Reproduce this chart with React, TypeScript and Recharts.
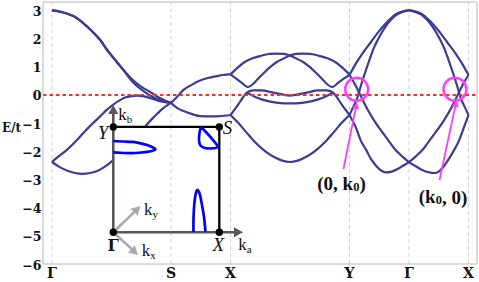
import React from 'react';
import { ComposedChart, Line, Scatter, XAxis, YAxis, ReferenceLine } from 'recharts';

type P = [number, number];

// ---- axes ----
const K_TICKS = [0, 2, 3, 5, 6, 7];
const K_TICK_LABELS = ['Γ', 'S', 'X', 'Y', 'Γ', 'X'];
const E_TICKS = [-6, -5, -4, -3, -2, -1, 0, 1, 2, 3];
const K_DOMAIN: P = [-0.151, 7.143];
const E_DOMAIN: P = [-6, 3.3];

// ---- bands: Γ → S ----
const gsUpper1: P[] = [[0, 3.0], [0.13, 2.96], [0.25, 2.89], [0.39, 2.77], [0.52, 2.56], [0.67, 2.27], [0.81, 1.95], [0.94, 1.56], [1.09, 1.17], [1.23, 0.82], [1.36, 0.53], [1.51, 0.28], [1.65, 0.11], [1.78, -0.07], [1.88, -0.18], [2.0, -0.28]];
const gsUpper2: P[] = [[0, 3.0], [0.13, 2.96], [0.25, 2.89], [0.39, 2.77], [0.52, 2.56], [0.67, 2.27], [0.81, 1.95], [0.94, 1.56], [1.09, 1.17], [1.23, 0.8], [1.36, 0.45], [1.51, 0.18], [1.65, -0.02], [1.78, -0.16], [1.88, -0.23], [2.0, -0.28]];
const gsMiddle: P[] = [[0, -2.38], [0.1, -2.2], [0.25, -1.95], [0.42, -1.6], [0.55, -1.3], [0.69, -1.0], [0.81, -0.76], [0.92, -0.53], [1.03, -0.34], [1.13, -0.2], [1.23, -0.09], [1.33, -0.04], [1.43, -0.02], [1.55, -0.05], [1.65, -0.11], [1.78, -0.2], [1.88, -0.25], [2.0, -0.28]];
// lower band: visible parts left of and above the inset
const gsLowerLeft: P[] = [[0, -2.38], [0.13, -2.56], [0.25, -2.68], [0.39, -2.77], [0.5, -2.8], [0.64, -2.77], [0.76, -2.7], [0.87, -2.57], [0.97, -2.42], [1.03, -2.31]];
const gsLowerRight: P[] = [[1.562, -1.136], [1.61, -1.01], [1.73, -0.75], [1.85, -0.5], [2.0, -0.28]];

// ---- bands: S → X ----
const sxUpper: P[] = [[2.0, -0.28], [2.1, -0.07], [2.21, 0.18], [2.34, 0.35], [2.49, 0.51], [2.62, 0.6], [2.77, 0.67], [2.87, 0.71], [3.0, 0.73]];
const sxLower: P[] = [[2.0, -0.28], [2.1, -0.46], [2.21, -0.57], [2.37, -0.69], [2.49, -0.75], [2.66, -0.76], [2.82, -0.75], [3.0, -0.71]];

// ---- bands: X → Y ----
const xyArchA: P[] = [[3.0, 0.73], [3.13, 0.99], [3.24, 1.17], [3.38, 1.31], [3.53, 1.4], [3.66, 1.46], [3.78, 1.47], [3.9, 1.46], [4.0, 1.4], [4.12, 1.28], [4.22, 1.17], [4.34, 0.98], [4.44, 0.78], [4.54, 0.57], [4.62, 0.39], [4.71, 0.28], [4.81, 0.43], [4.91, 0.59], [5.0, 0.71]];
const xyArchB: P[] = [[3.0, 0.73], [3.09, 0.59], [3.19, 0.43], [3.29, 0.28], [3.38, 0.39], [3.46, 0.57], [3.56, 0.78], [3.66, 0.98], [3.78, 1.17], [3.88, 1.28], [4.0, 1.4], [4.1, 1.46], [4.22, 1.47], [4.34, 1.46], [4.47, 1.4], [4.62, 1.31], [4.76, 1.17], [4.87, 0.99], [5.0, 0.73]];
const xyLensUpper: P[] = [[3.0, -0.71], [3.09, -0.46], [3.18, -0.18], [3.28, 0.09], [3.38, 0.16], [3.53, 0.16], [3.7, 0.09], [3.87, 0.02], [4.0, -0.02], [4.13, 0.02], [4.3, 0.09], [4.47, 0.16], [4.62, 0.16], [4.72, 0.09], [4.82, -0.18], [4.91, -0.46], [5.0, -0.71]];
const xyLensLower: P[] = [[3.28, 0.09], [3.46, -0.11], [3.63, -0.22], [3.8, -0.28], [4.0, -0.3], [4.2, -0.28], [4.37, -0.22], [4.54, -0.11], [4.72, 0.09]];
const xyValley: P[] = [[3.0, -0.71], [3.13, -0.99], [3.26, -1.31], [3.41, -1.67], [3.58, -1.99], [3.75, -2.22], [3.87, -2.33], [4.0, -2.38], [4.13, -2.33], [4.25, -2.22], [4.42, -1.99], [4.59, -1.67], [4.74, -1.31], [4.87, -0.99], [5.0, -0.71]];

// ---- bands: Y → Γ → X ----
const ygxTop1: P[] = [[5.0, 0.71], [5.11, 1.12], [5.23, 1.51], [5.36, 1.88], [5.48, 2.22], [5.6, 2.52], [5.7, 2.73], [5.8, 2.89], [5.9, 2.97], [6.0, 3.0], [6.1, 2.97], [6.2, 2.89], [6.3, 2.73], [6.4, 2.52], [6.52, 2.22], [6.64, 1.88], [6.77, 1.51], [6.89, 1.12], [7.0, 0.71]];
const ygxTop2: P[] = [[5.0, -0.71], [5.06, -0.44], [5.13, -0.11], [5.19, 0.32], [5.26, 0.78], [5.33, 1.21], [5.41, 1.67], [5.5, 2.06], [5.6, 2.41], [5.7, 2.68], [5.8, 2.86], [5.9, 2.95], [6.0, 3.0], [6.1, 2.95], [6.2, 2.86], [6.3, 2.68], [6.4, 2.41], [6.5, 2.06], [6.59, 1.67], [6.67, 1.21], [6.74, 0.78], [6.81, 0.32], [6.87, -0.11], [6.94, -0.44], [7.0, -0.71]];
const ygxBowlL: P[] = [[5.0, -0.71], [5.11, -1.17], [5.19, -1.62], [5.28, -1.95], [5.36, -2.27], [5.45, -2.52], [5.53, -2.68], [5.61, -2.75], [5.71, -2.72], [5.8, -2.64], [5.88, -2.54], [6.0, -2.38], [6.12, -2.17], [6.24, -1.92], [6.35, -1.6], [6.47, -1.26], [6.59, -0.89], [6.71, -0.46], [6.81, -0.04], [6.91, 0.39], [7.0, 0.71]];
const ygxBowlR: P[] = [[5.0, 0.71], [5.09, 0.39], [5.19, -0.04], [5.29, -0.46], [5.41, -0.89], [5.53, -1.26], [5.65, -1.6], [5.76, -1.92], [5.88, -2.17], [6.0, -2.38], [6.12, -2.54], [6.24, -2.68], [6.34, -2.75], [6.42, -2.77], [6.5, -2.72], [6.59, -2.52], [6.67, -2.27], [6.76, -1.95], [6.84, -1.62], [6.92, -1.17], [7.0, -0.71]];

const BANDS: P[][] = [gsUpper1, gsUpper2, gsMiddle, gsLowerLeft, gsLowerRight, sxUpper, sxLower, xyArchA, xyArchB, xyLensUpper, xyLensLower, xyValley, ygxTop1, ygxTop2, ygxBowlL, ygxBowlR];

// ---- inset: Brillouin zone sketch (in plot units) ----
const bzTopEdge: P[] = [[1.03, -1.136], [2.812, -1.136]];
const bzRightEdge: P[] = [[2.812, -1.136], [2.812, -4.874]];
const kbShaft: P[] = [[1.03, -4.874], [1.03, -0.6]];
const kaShaft: P[] = [[1.03, -4.874], [3.1, -4.874]];
const kyShaft: P[] = [[1.03, -4.874], [1.415, -4.089]];
const kxShaft: P[] = [[1.03, -4.874], [1.375, -5.534]];
const bzCorners: P[] = [[1.03, -4.874], [2.812, -4.874], [2.812, -1.136], [1.03, -1.136]];
const bzCornerNames = ['Γ', 'X', 'S', 'Y'];
const bzCornerLabelAt: P[] = [[1.03, -5.36], [2.795, -5.325], [2.95, -1.154], [0.857, -1.349]];
const kAxisNames = ['b', 'a', 'y', 'x'];
const kAxisLabelAt: P[] = [[1.114, -0.887], [3.131, -5.502], [1.546, -4.26], [1.508, -5.715]];
const kAxisTips: P[] = [[1.03, -0.355], [3.21, -4.874], [1.487, -3.94], [1.445, -5.68]];

// Fermi-surface pockets
const pocketY: P[] = [[1.034, -1.633], [1.21, -1.651], [1.361, -1.668], [1.496, -1.722], [1.597, -1.775], [1.681, -1.846], [1.739, -1.928], [1.681, -1.988], [1.597, -2.023], [1.479, -2.048], [1.361, -2.066], [1.21, -2.059], [1.034, -2.041]];
const pocketS: P[] = [[2.504, -1.136], [2.479, -1.349], [2.471, -1.597], [2.496, -1.793], [2.571, -1.881], [2.672, -1.899], [2.782, -1.846], [2.739, -1.686], [2.655, -1.473], [2.571, -1.278], [2.504, -1.136]];
const pocketX: P[] = [[2.378, -4.863], [2.378, -4.437], [2.387, -4.011], [2.403, -3.656], [2.429, -3.408], [2.454, -3.39], [2.487, -3.55], [2.521, -3.905], [2.555, -4.331], [2.58, -4.863]];

// Fermi crossings annotations
const fermiCircles: P[] = [[5.121, 0.202], [6.773, 0.202]];
const fermiLabelAt: P[] = [[4.866, -3.142], [6.571, -3.621]];
const fermiShaftL: P[] = [[4.899, -2.627], [5.106, -0.458]];
const fermiShaftR: P[] = [[6.513, -3.017], [6.78, -0.387]];
const fermiTips: P[] = [[5.126, -0.248], [6.802, -0.177]];

// ---- styles ----
const W = 479;
const H = 282;
const BAND_COLOR = '#3d3c93';
const FRAME = '#b8b8b8';
const GRID = '#d2d2d2';
const MAGENTA = '#ff3dff';
const DARK_GRAY = '#55585e';
const LIGHT_GRAY = '#a9a9a9';
const POCKET = '#0000ff';
const SERIF_B = 'DejaVu Serif';
const SERIF = 'Liberation Serif';
const KTIP_COLORS = [DARK_GRAY, DARK_GRAY, LIGHT_GRAY, LIGHT_GRAY];
const KTIP_ANGLES = [-90, 0, -45, 43];
const FERMI_ANGLES = [-78.6, -77.9];

const pts = (a: P[]) => a.map(([k, E]) => ({ k, E }));

const arrowHead = (color: string, angleDeg: number, len: number, half: number) => (s: any) => {
  const a = (angleDeg * Math.PI) / 180;
  const c = Math.cos(a);
  const sn = Math.sin(a);
  const tx = s.cx;
  const ty = s.cy;
  const bx = tx - len * c;
  const by = ty - len * sn;
  const p1x = bx - half * sn;
  const p1y = by + half * c;
  const p2x = bx + half * sn;
  const p2y = by - half * c;
  return <polygon points={`${tx},${ty} ${p1x},${p1y} ${p2x},${p2y}`} fill={color} />;
};

const XTick = (props: any) => {
  const { x, y, payload } = props;
  const i = K_TICKS.indexOf(payload.value);
  return (
    <text x={x} y={y + 8.5} textAnchor="middle" dominantBaseline="central" fontFamily={SERIF_B} fontWeight="bold" fontSize={14} fill="#111">
      {K_TICK_LABELS[i]}
    </text>
  );
};

const YTick = (props: any) => {
  const { x, y, payload } = props;
  const v = payload.value as number;
  const s = v < 0 ? '\u2212' + Math.abs(v) : String(v);
  return (
    <text x={x} y={y + 1} textAnchor="end" dominantBaseline="central" fontFamily={SERIF_B} fontWeight="bold" fontSize={12.5} fill="#111">
      {s}
    </text>
  );
};

const lineSeries = (key: string, data: P[], color: string, width: number, type: any = 'linear') => (
  <Line key={key} data={pts(data)} dataKey="E" type={type} stroke={color} strokeWidth={width} dot={false} activeDot={false} isAnimationActive={false} />
);

const pointSeries = (key: string, p: P, shape: (s: any) => any) => (
  <Scatter key={key} data={pts([p])} dataKey="E" shape={shape} isAnimationActive={false} />
);

export default function App() {
  return (
    <div style={{ position: 'absolute', left: 0, top: 0, width: W, height: H, background: '#fff' }}>
      <ComposedChart width={W} height={H} margin={{ top: 2, right: 2, bottom: 0, left: 0 }}>
        <XAxis type="number" dataKey="k" domain={K_DOMAIN} allowDataOverflow ticks={K_TICKS} interval={0} height={18} tickSize={0} tickMargin={0} tickLine={false} axisLine={{ stroke: FRAME }} tick={XTick} />
        <YAxis
          type="number"
          dataKey="E"
          domain={E_DOMAIN}
          allowDataOverflow
          ticks={E_TICKS}
          interval={0}
          width={43}
          tickSize={0}
          tickMargin={1.5}
          tickLine={false}
          axisLine={{ stroke: FRAME }}
          tick={YTick}
          label={{ value: 'E/t', position: 'insideLeft', offset: 2, dy: -5, style: { fontFamily: SERIF_B, fontWeight: 'bold', fontSize: 12, fill: '#111' } }}
        />
        {K_TICKS.map((k, i) => (
          <ReferenceLine key={'grid' + i} x={k} stroke={GRID} strokeDasharray="4 3" />
        ))}
        <ReferenceLine y={E_DOMAIN[1]} stroke={FRAME} />
        <ReferenceLine x={K_DOMAIN[1]} stroke={FRAME} />

        {BANDS.map((b, i) => lineSeries('band' + i, b, BAND_COLOR, 2.2, 'monotone'))}

        <ReferenceLine y={0} stroke="#ff2a2a" strokeWidth={2} strokeDasharray="3.5 3" />

        {/* inset */}
        {lineSeries('kb', kbShaft, DARK_GRAY, 2.6)}
        {lineSeries('ka', kaShaft, DARK_GRAY, 2.6)}
        {lineSeries('ky', kyShaft, LIGHT_GRAY, 2.6)}
        {lineSeries('kx', kxShaft, LIGHT_GRAY, 2.6)}
        {lineSeries('bzTop', bzTopEdge, '#000', 2.3)}
        {lineSeries('bzRight', bzRightEdge, '#000', 2.3)}
        {lineSeries('pY', pocketY, POCKET, 2.7, 'natural')}
        {lineSeries('pS', pocketS, POCKET, 2.7, 'natural')}
        {lineSeries('pX', pocketX, POCKET, 2.7, 'natural')}
        {kAxisTips.map((p, i) => pointSeries('ktip' + i, p, arrowHead(KTIP_COLORS[i], KTIP_ANGLES[i], 9, 5)))}
        {bzCorners.map((p, i) => pointSeries('corner' + i, p, (s: any) => <circle cx={s.cx} cy={s.cy} r={3.7} fill="#000" />))}
        {bzCornerLabelAt.map((p, i) =>
          pointSeries('cl' + i, p, (s: any) => (
            <text
              x={s.cx}
              y={s.cy}
              textAnchor="middle"
              dominantBaseline="central"
              fontFamily={i === 0 ? SERIF_B : SERIF}
              fontWeight={i === 0 ? 'bold' : 'normal'}
              fontStyle={i === 0 ? 'normal' : 'italic'}
              fontSize={i === 0 ? 16 : 19}
              fill="#111"
            >
              {bzCornerNames[i]}
            </text>
          ))
        )}
        {kAxisLabelAt.map((p, i) =>
          pointSeries('kl' + i, p, (s: any) => (
            <text x={s.cx} y={s.cy} textAnchor="start" fontFamily={SERIF} fontSize={17} fill="#111">
              k
              <tspan fontSize={11} dy={3}>
                {kAxisNames[i]}
              </tspan>
            </text>
          ))
        )}

        {/* Fermi crossings */}
        {lineSeries('fl', fermiShaftL, MAGENTA, 1.8)}
        {lineSeries('fr', fermiShaftR, MAGENTA, 1.8)}
        {fermiTips.map((p, i) => pointSeries('ftip' + i, p, arrowHead(MAGENTA, FERMI_ANGLES[i], 7, 3.5)))}
        {fermiCircles.map((p, i) =>
          pointSeries('fc' + i, p, (s: any) => <circle cx={s.cx} cy={s.cy} r={11.5} fill="none" stroke={MAGENTA} strokeWidth={2.4} />)
        )}
        {fermiLabelAt.map((p, i) =>
          pointSeries('flab' + i, p, (s: any) => (
            <text x={s.cx} y={s.cy} textAnchor="middle" dominantBaseline="central" fontFamily={SERIF} fontWeight="bold" fontSize={19} fill="#111">
              {i === 0 ? (
                <>
                  (0, k<tspan fontSize={12.5} dy={3.5}>0</tspan>
                  <tspan dy={-3.5}>)</tspan>
                </>
              ) : (
                <>
                  (k<tspan fontSize={12.5} dy={3.5}>0</tspan>
                  <tspan dy={-3.5}>, 0)</tspan>
                </>
              )}
            </text>
          ))
        )}
      </ComposedChart>
    </div>
  );
}
